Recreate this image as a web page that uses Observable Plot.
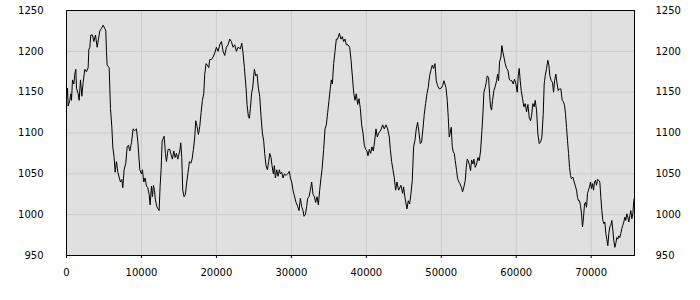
<!DOCTYPE html>
<html>
<head>
<meta charset="utf-8">
<script src="https://cdn.jsdelivr.net/npm/d3@7"></script>
<script src="https://cdn.jsdelivr.net/npm/@observablehq/plot@0.6"></script>
<style>
  html, body { margin: 0; padding: 0; background: #ffffff; }
  #chart { width: 700px; height: 300px; }
</style>
</head>
<body>
<div id="chart"></div>
<script>
const xValues = [
  0,133,222,444,578,667,800,978,1111,1244,1333,1556,1689,1867,2044,2222,2444,2667,2889,2978,
  3111,3244,3467,3644,3867,4089,4267,4444,4667,4889,5111,5244,5333,5422,5689,5867,6044,6178,6356,6489,
  6667,6844,7022,7200,7378,7511,7689,7911,8089,8267,8444,8667,8889,9111,9333,9511,9778,10000,10133,10311,
  10489,10667,10844,11022,11156,11333,11467,11600,11733,11867,12044,12222,12356,12489,12622,12756,12889,13022,13200,13333,
  13556,13778,14000,14133,14311,14489,14667,14844,15111,15244,15378,15511,15689,15867,16044,16222,16400,16578,16756,16933,
  17111,17244,17422,17600,17778,17956,18133,18311,18444,18622,18800,18978,19111,19333,19556,19778,20000,20222,20444,20667,
  20889,21111,21333,21556,21778,22000,22222,22444,22667,22889,
  23200,23378,23556,23733,23956,24089,24267,24400,24533,24711,24844,24978,25067,25244,25422,25600,25778,25956,26133,26311,
  26444,26622,26800,26978,27111,27289,27422,27600,27733,27867,28044,28222,28400,28533,28711,28889,29067,29289,29511,29733,
  29867,30044,30222,30400,30622,30844,31022,31200,31378,31556,31689,31867,32044,32178,32356,32533,32711,32889,33067,33244,
  33422,33600,33778,33956,34089,34311,34489,34667,34844,35022,35200,35333,35467,35644,35822,36000,36178,36400,36622,36800,
  36978,37156,37333,37556,37778,37956,38178,38311,38489,38667,38844,39022,39200,39378,39556,39733,39911,40089,40222,40400,
  40578,40756,40933,41111,41289,41467,41644,41822,42000,42178,42400,42622,42844,43067,43200,43378,43556,43733,43911,44089,
  44311,44622,44844,44978,45156,45422,45600,45778,45956,46133,46311,46489,46667,46844,47022,47200,47378,47556,47733,47911,
  48089,48267,48444,48622,48800,48978,49156,49333,49511,49733,
  50000,50178,50356,50622,50800,50933,51067,51200,51333,51467,51600,51733,51867,52044,52178,52356,52489,52667,52844,53022,
  53200,53333,53467,53600,53778,53911,54044,54222,54356,54533,54711,54889,55067,55244,55422,55556,55689,55867,56000,56133,
  56311,56444,56578,56711,56844,57022,57200,57378,57511,57644,57778,57956,58089,58222,58356,58533,58711,58889,59067,59244,
  59422,59600,59778,59956,60133,60267,60400,60533,60667,60844,61022,61200,61378,61556,61733,61911,62044,62222,62400,62533,
  62711,62889,63067,63244,63422,63600,63733,63867,64044,64222,64356,64489,64667,64844,64978,65111,65289,65422,65600,65778,
  65956,66133,66311,66444,66578,66711,66844,66978,67111,67244,67378,67556,67733,67867,68044,68178,68311,68444,68578,68711,
  68844,68978,69111,69244,69378,69511,69644,69778,69911,70044,70178,70311,70444,70578,70711,70844,71022,71156,71289,71422,
  71556,71689,71822,71956,72089,72222,72356,72489,72622,72756,72889,73022,73156,73289,73422,73556,73689,73822,73956,74089,
  74222,74356,74489,74622,74756,74889,75022,75156,75289,75422,75556,75689,75778
];
const yValues = [
  1140,1155,1133,1140,1148,1140,1165,1160,1172,1178,1155,1148,1140,1165,1145,1162,1178,1175,1180,1202,
  1205,1220,1220,1212,1220,1205,1215,1225,1228,1232,1228,1225,1200,1183,1180,1130,1108,1083,1070,1052,
  1065,1052,1046,1040,1043,1033,1055,1063,1083,1085,1078,1088,1105,1103,1105,1090,1055,1050,1055,1040,
  1045,1035,1033,1025,1012,1035,1022,1036,1030,1018,1010,1007,1005,1035,1055,1090,1093,1096,1075,1065,
  1080,1080,1072,1068,1078,1070,1075,1068,1078,1088,1070,1030,1022,1025,1040,1052,1065,1063,1068,1080,
  1095,1115,1108,1098,1108,1125,1140,1148,1172,1185,1183,1180,1190,1190,1193,1198,1205,1200,1208,1212,
  1200,1195,1205,1208,1215,1212,1205,1208,1200,1205,
  1203,1210,1198,1180,1155,1135,1120,1118,1130,1150,1155,1170,1178,1170,1172,1155,1145,1120,1100,1090,
  1075,1060,1055,1065,1075,1070,1060,1050,1060,1045,1055,1047,1055,1050,1052,1045,1050,1048,1050,1053,
  1045,1040,1030,1023,1015,1010,1005,1020,1010,1005,998,1000,1010,1020,1022,1030,1040,1025,1022,1015,
  1022,1012,1030,1045,1055,1080,1105,1110,1125,1140,1155,1165,1160,1185,1200,1215,1215,1222,1215,1218,
  1212,1215,1208,1208,1205,1190,1165,1150,1140,1148,1135,1142,1130,1110,1100,1085,1080,1078,1072,1080,
  1075,1083,1078,1090,1105,1095,1100,1102,1105,1110,1105,1110,1105,1095,1080,1065,1055,1045,1030,1040,
  1030,1036,1026,1034,1021,1007,1017,1013,1026,1042,1083,1091,1105,1113,1101,1087,1089,1105,1123,1136,
  1148,1156,1170,1177,1183,1179,1185,1164,1158,1154,
  1155,1158,1164,1156,1140,1119,1095,1101,1107,1083,1077,1075,1066,1054,1044,1040,1038,1034,1028,1034,
  1042,1058,1068,1066,1060,1054,1067,1062,1068,1058,1062,1070,1066,1078,1103,1123,1150,1156,1162,1170,
  1168,1148,1132,1128,1140,1152,1157,1164,1172,1164,1187,1193,1207,1199,1193,1185,1179,1177,1166,1164,
  1164,1160,1166,1160,1150,1170,1179,1164,1152,1142,1132,1136,1126,1135,1119,1115,1121,1136,1132,1140,
  1128,1099,1087,1089,1095,1123,1160,1170,1179,1189,1183,1170,1164,1162,1150,1164,1172,1162,1152,1154,
  1154,1140,1138,1134,1123,1107,1091,1075,1058,1048,1044,1046,1040,1036,1030,1021,1017,1017,1011,1001,
  985,997,1013,1015,1009,1026,1030,1034,1040,1032,1038,1030,1040,1042,1036,1043,1042,1040,1021,1005,
  993,989,991,977,970,962,977,985,987,993,981,968,960,965,972,970,974,972,977,983,
  987,991,997,993,1001,997,991,999,1005,995,1001,1017,1021
];
const xTicks = [0, 10000, 20000, 30000, 40000, 50000, 60000, 70000];
const yTicks = [950, 1000, 1050, 1100, 1150, 1200, 1250];

const data = xValues.map((x, i) => ({x, y: yValues[i]}));

const chart = Plot.plot({
  width: 700,
  height: 300,
  marginLeft: 66,
  marginRight: 66,
  marginTop: 10,
  marginBottom: 45,
  style: {fontFamily: "DejaVu Sans", fontSize: "10px", background: "#ffffff", color: "#000000"},
  x: {domain: [0, 75780], label: null},
  y: {domain: [950, 1250], label: null},
  marks: [
    Plot.frame({fill: "#e0e0e0", stroke: null}),
    Plot.gridX(xTicks, {stroke: "#cbcbcb", strokeOpacity: 1}),
    Plot.gridY(yTicks, {stroke: "#cbcbcb", strokeOpacity: 1}),
    Plot.line(data, {x: "x", y: "y", stroke: "#000000", strokeWidth: 1}),
    Plot.frame({stroke: "#000000", strokeWidth: 1}),
    Plot.axisX(xTicks, {anchor: "bottom", tickSize: 3, tickPadding: 10, tickFormat: d => String(d), label: null}),
    Plot.axisY(yTicks, {anchor: "left", tickSize: 0, tickPadding: 23, tickFormat: d => String(d), label: null}),
    Plot.axisY(yTicks, {anchor: "right", tickSize: 0, tickPadding: 21, tickFormat: d => String(d), label: null})
  ]
});
document.getElementById("chart").appendChild(chart);
</script>
</body>
</html>
